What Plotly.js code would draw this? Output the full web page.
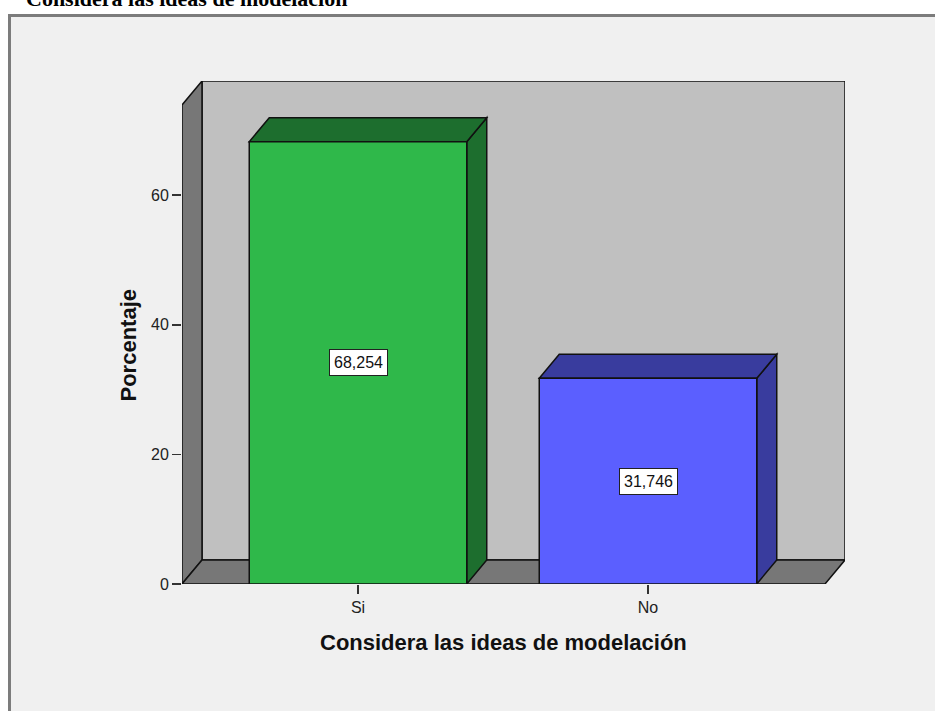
<!DOCTYPE html>
<html>
<head>
<meta charset="utf-8">
<script src="https://cdn.plot.ly/plotly-3.0.1.min.js"></script>
<style>html,body{margin:0;padding:0;background:#fff;}#chart{width:935px;height:711px;}</style>
</head>
<body>
<div id="chart"></div>
<script>
// ---- data ----
const categories = ['Si', 'No'];
const values = [68.254, 31.746];
const valueLabels = ['68,254', '31,746'];
const yTickVals = [0, 20, 40, 60];
const yTickText = ['0', '20', '40', '60'];
const chartTitle = 'Considera las ideas de modelación';
const xTitle = 'Considera las ideas de modelación';
const yTitle = 'Porcentaje';

// ---- styles ----
const frontColors = ['#2fb84a', '#5b5fff'];
const darkColors = ['#1d6e2e', '#393c9e'];
const FONT = 'Arial, "Liberation Sans", sans-serif';

// layout geometry
const W = 935, H = 711;
const M = {l: 182, r: 90, t: 81, b: 127};
const plotW = W - M.l - M.r, plotH = H - M.t - M.b;
const xRange = [-0.6069, 1.6793];
const yRange = [0, 77.62];
const pxX = plotW / (xRange[1] - xRange[0]);
const pxY = plotH / (yRange[1] - yRange[0]);
const dX = 20 / pxX;   // depth offset in data units
const dY = 24 / pxY;
const barW = 0.75;

function path(pts) {
  return 'M ' + pts.map(p => p[0] + ',' + p[1]).join(' L ') + ' Z';
}
const edge = {color: '#111', width: 1.5};
const shapes = [];
// outer frame (paper coordinates)
const px2paperX = px => (px - M.l) / plotW;
const px2paperY = py => (H - M.b - py) / plotH;
shapes.push({type: 'rect', xref: 'paper', yref: 'paper', layer: 'below',
  x0: px2paperX(9.5), x1: px2paperX(960), y0: px2paperY(15.5), y1: px2paperY(740),
  fillcolor: '#f0f0f0', line: {color: '#7c7c7c', width: 3}});

const xL = xRange[0], xR = xRange[1], yT = yRange[1];
// back wall
shapes.push({type: 'path', xref: 'x', yref: 'y', layer: 'below',
  path: path([[xL + dX, dY], [xL + dX, yT], [xR, yT], [xR, dY]]),
  fillcolor: '#c0c0c0', line: edge});
// left wall
shapes.push({type: 'path', xref: 'x', yref: 'y', layer: 'below',
  path: path([[xL, 0], [xL, yT - dY], [xL + dX, yT], [xL + dX, dY]]),
  fillcolor: '#777777', line: edge});
// floor
shapes.push({type: 'path', xref: 'x', yref: 'y', layer: 'below',
  path: path([[xL, 0], [xL + dX, dY], [xR, dY], [xR - dX, 0]]),
  fillcolor: '#777777', line: edge});
// bar tops and sides
values.forEach((v, i) => {
  const x0 = i - barW / 2, x1 = i + barW / 2;
  shapes.push({type: 'path', xref: 'x', yref: 'y', layer: 'below',
    path: path([[x1, 0], [x1, v], [x1 + dX, v + dY], [x1 + dX, dY]]),
    fillcolor: darkColors[i], line: edge});
  shapes.push({type: 'path', xref: 'x', yref: 'y', layer: 'below',
    path: path([[x0, v], [x0 + dX, v + dY], [x1 + dX, v + dY], [x1, v]]),
    fillcolor: darkColors[i], line: edge});
});

const annotations = values.map((v, i) => ({
  x: i, y: v / 2, xref: 'x', yref: 'y', text: valueLabels[i], showarrow: false,
  font: {family: FONT, size: 16, color: '#111'}, bgcolor: '#ffffff',
  bordercolor: '#222', borderwidth: 1, borderpad: 4, xanchor: 'center', yanchor: 'middle'
}));
annotations.push({xref: 'paper', yref: 'paper', x: px2paperX(24), y: px2paperY(13),
  xanchor: 'left', yanchor: 'bottom', showarrow: false, text: '<b>' + chartTitle + '</b>',
  font: {family: '"Liberation Serif", "Times New Roman", serif', size: 22, color: '#000'}});
annotations.push({xref: 'paper', yref: 'paper', x: px2paperX(503), y: px2paperY(642.7),
  xanchor: 'center', yanchor: 'middle', showarrow: false, text: '<b>' + xTitle + '</b>',
  font: {family: FONT, size: 22, color: '#111'}});
annotations.push({xref: 'paper', yref: 'paper', x: px2paperX(127.5), y: px2paperY(345),
  xanchor: 'center', yanchor: 'middle', showarrow: false, textangle: -90, text: '<b>' + yTitle + '</b>',
  font: {family: FONT, size: 22, color: '#111'}});

const trace = {
  type: 'bar', x: categories, y: values, width: barW,
  marker: {color: frontColors, line: {color: '#111', width: 1.5}},
  hoverinfo: 'skip', showlegend: false
};

const layout = {
  width: W, height: H, margin: M,
  paper_bgcolor: '#ffffff', plot_bgcolor: 'rgba(0,0,0,0)',
  xaxis: {type: 'category', range: xRange, showgrid: false, zeroline: false, showline: false,
    ticks: 'outside', ticklen: 9, tickwidth: 1.5, tickcolor: '#333',
    tickfont: {family: FONT, size: 16, color: '#222'}, fixedrange: true},
  yaxis: {range: yRange, tickvals: yTickVals, ticktext: yTickText, showgrid: false, zeroline: false,
    showline: false, ticks: 'outside', ticklen: 9, tickwidth: 1.5, tickcolor: '#333',
    tickfont: {family: FONT, size: 16, color: '#222'}, fixedrange: true},
  shapes: shapes, annotations: annotations, showlegend: false
};

Plotly.newPlot('chart', [trace], layout, {staticPlot: true, displayModeBar: false});
</script>
</body>
</html>
